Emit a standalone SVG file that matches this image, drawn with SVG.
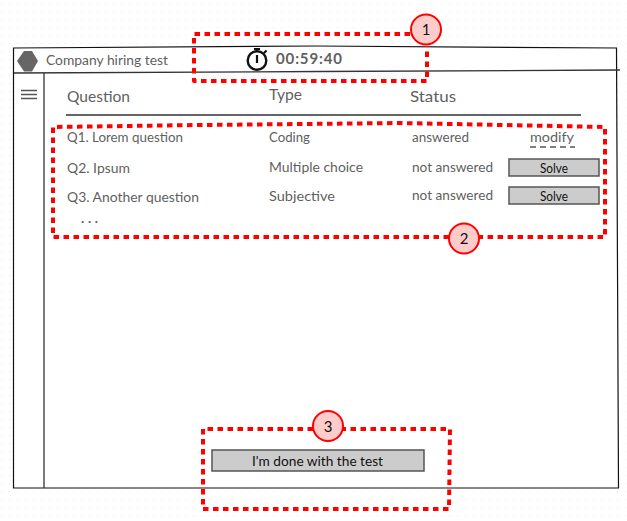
<svg xmlns="http://www.w3.org/2000/svg" width="627" height="521" viewBox="0 0 627 521">
<style>
text{font-family:"Lato","Noto Sans",sans-serif;fill:#5f5f5f;font-size:13.5px}
.k{fill:#111}
.h{font-size:15px}
.win{fill:#fff;stroke:#111;stroke-width:1.2}
.ln{fill:none;stroke:#333;stroke-width:1.3}
.btn{fill:#ccc;stroke:#555;stroke-width:1.5}
.hl{fill:none;stroke:#f00;stroke-width:4;stroke-dasharray:5.5 4.5;stroke-linejoin:round}
.bad{fill:#fcc;stroke:#f00;stroke-width:2}
.num{fill:#111;font-size:15px;text-anchor:middle}
</style>
<defs><pattern id="dots" width="8" height="8" patternUnits="userSpaceOnUse"><rect x="1" y="3" width="1" height="1" fill="#e6e6e6"/></pattern></defs>
<rect width="627" height="521" fill="#fff"/><rect width="627" height="521" fill="url(#dots)"/>
<g id="window">
<path class="win" d="M13.500 48 L316 46 L616.500 48 L618.500 488 L13.500 488 Z"/>
<path class="ln" d="M14 73 L320 71.500 L620 70"/>
<path class="ln" d="M44 73 L44 488"/>
<path d="M17 61 L24 51 L32 51 L38 61 L32 71.500 L24 71.500 Z" fill="#666"/>
<text x="46" y="65" textLength="122" lengthAdjust="spacingAndGlyphs">Company hiring test</text>
<path d="M21 90.500H37M21 94.500H37M21 98.500H37" stroke="#555" stroke-width="1.700"/>
</g>
<g id="timer">
<circle cx="257" cy="60.500" r="9.300" fill="none" stroke="#111" stroke-width="2.400"/>
<path d="M254 49H260M257 49V52M264 53L266.500 50.500M257 55V63" stroke="#111" stroke-width="2.200" fill="none"/>
<text x="276" y="64" font-weight="700" textLength="66" style="font-size:15px">00:59:40</text>
</g>
<g id="table-header">
<text class="h" x="67" y="102" textLength="63" lengthAdjust="spacingAndGlyphs">Question</text>
<text class="h" x="269" y="100" textLength="33" lengthAdjust="spacingAndGlyphs">Type</text>
<text class="h" x="410" y="102" textLength="46" lengthAdjust="spacingAndGlyphs">Status</text>
<path d="M66 115H581" stroke="#666" stroke-width="2"/>
</g>
<g id="row-1">
<text x="67" y="142" textLength="116" lengthAdjust="spacingAndGlyphs">Q1. Lorem question</text>
<text x="269" y="142" textLength="41" lengthAdjust="spacingAndGlyphs">Coding</text>
<text x="412" y="142" textLength="57" lengthAdjust="spacingAndGlyphs">answered</text>
<text x="530" y="142" textLength="44" lengthAdjust="spacingAndGlyphs">modify</text>
<path d="M530 147H575" stroke="#555" stroke-width="1.500" stroke-dasharray="6 4"/>
</g>
<g id="row-2">
<text x="67" y="173" textLength="63" lengthAdjust="spacingAndGlyphs">Q2. Ipsum</text>
<text x="269" y="172" textLength="94" lengthAdjust="spacingAndGlyphs">Multiple choice</text>
<text x="412" y="172" textLength="81" lengthAdjust="spacingAndGlyphs">not answered</text>
<rect class="btn" x="509" y="159" width="90" height="17"/>
<text class="k" x="540" y="173" textLength="28" lengthAdjust="spacingAndGlyphs">Solve</text>
</g>
<g id="row-3">
<text x="67" y="202" textLength="132" lengthAdjust="spacingAndGlyphs">Q3. Another question</text>
<text x="269" y="201" textLength="66" lengthAdjust="spacingAndGlyphs">Subjective</text>
<text x="412" y="200" textLength="81" lengthAdjust="spacingAndGlyphs">not answered</text>
<rect class="btn" x="509" y="187" width="90" height="17"/>
<text class="k" x="540" y="201" textLength="28" lengthAdjust="spacingAndGlyphs">Solve</text>
<text x="81" y="223" font-weight="700" textLength="17">...</text>
</g>
<g id="done-button">
<rect class="btn" x="212" y="450" width="212" height="21"/>
<text class="k" x="252" y="466" textLength="131" lengthAdjust="spacingAndGlyphs">I'm done with the test</text>
</g>
<g id="connectors">
<path class="hl" d="M410 34 H194 V81 H427 V46"/>
<path class="hl" d="M449 237 H53 V127 L200 125 L400 123 L605 127 V237 H479"/>
<path class="hl" d="M313 429 H203 V509 H449 L450 429 H343"/>
</g>
<g id="badge-1"><circle class="bad" cx="426" cy="29.500" r="15"/><text class="num" x="426" y="35">1</text></g>
<g id="badge-2"><circle class="bad" cx="464" cy="238.500" r="15"/><text class="num" x="464" y="244">2</text></g>
<g id="badge-3"><circle class="bad" cx="328" cy="426" r="15"/><text class="num" x="328" y="431.500">3</text></g>
</svg>
